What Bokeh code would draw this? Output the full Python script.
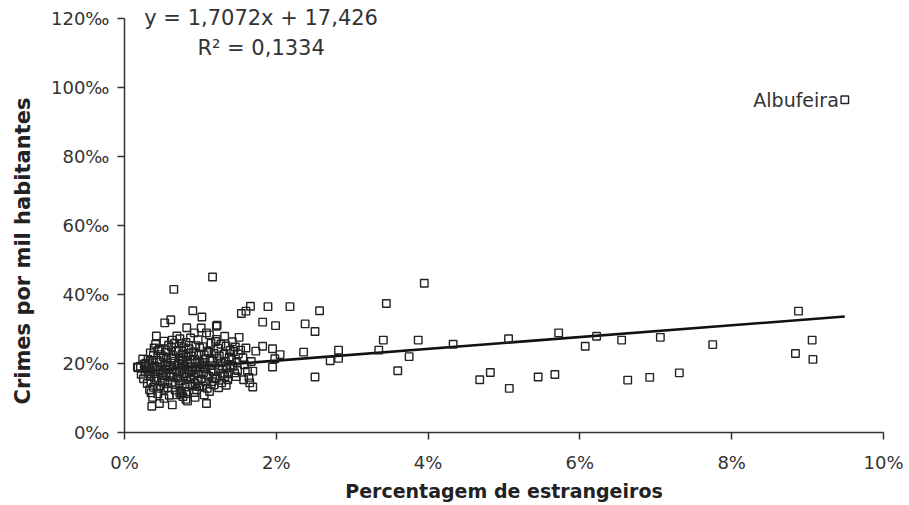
import numpy as np
from bokeh.plotting import figure
from bokeh.models import FixedTicker, Label, Range1d, Title
from bokeh.embed import file_html
from bokeh.resources import INLINE

# Percentagem de estrangeiros (%)
pct_foreign = [
    9.49,
    5.72, 6.22, 6.07, 6.55, 7.06, 7.75, 8.88, 9.06, 8.84, 9.07, 5.45, 5.67, 6.63, 6.92, 7.31,
    3.95, 3.45, 2.57, 2.38, 2.51, 3.41, 3.87, 4.33, 5.06, 2.36, 2.82, 3.35, 2.71, 2.82, 3.75, 3.60, 2.51, 4.68, 4.82, 5.07,
    1.89, 2.18, 1.82, 1.99, 1.82, 1.95, 2.05, 1.98, 1.95, 1.73, 1.69,
    0.21, 0.24, 0.27, 0.25, 0.29, 0.22, 0.28, 0.30, 0.26, 0.31, 0.17, 0.18,
    0.33, 0.35, 0.36, 0.34, 0.37, 0.38, 0.32, 0.39, 0.36, 0.35, 0.38, 0.33, 0.39, 0.37, 0.34, 0.40,
    0.42, 0.41, 0.44, 0.43, 0.45, 0.46, 0.42, 0.47, 0.44, 0.48, 0.41, 0.49, 0.46, 0.43, 0.45, 0.48, 0.47, 0.50,
    0.53, 0.52, 0.54, 0.51, 0.56, 0.58, 0.55, 0.57, 0.52, 0.59, 0.54, 0.56, 0.58, 0.51, 0.53, 0.55, 0.57, 0.60, 0.59, 0.52,
    0.61, 0.65, 0.69, 0.63, 0.62, 0.64, 0.66, 0.68, 0.61, 0.63, 0.67, 0.69, 0.65, 0.62, 0.64, 0.66, 0.68, 0.70, 0.67, 0.63,
    0.71, 0.72, 0.74, 0.76, 0.78, 0.73, 0.75, 0.77, 0.79, 0.72, 0.74, 0.76, 0.78, 0.71, 0.73, 0.75, 0.77, 0.80, 0.79, 0.72,
    0.82, 0.83, 0.81, 0.84, 0.86, 0.88, 0.85, 0.87, 0.89, 0.81, 0.83, 0.85, 0.87, 0.82, 0.84, 0.86, 0.88, 0.90, 0.89, 0.81,
    0.92, 0.94, 0.91, 0.93, 0.95, 0.97, 0.96, 0.98, 0.92, 0.94, 0.96, 0.98, 0.91, 0.93, 0.99, 0.95, 0.97, 1.00, 0.99, 0.93,
    1.02, 1.01, 1.03, 1.05, 1.04, 1.06, 1.08, 1.07, 1.09, 1.08, 1.02, 1.04, 1.06, 1.08, 1.01, 1.03, 1.10, 1.05,
    1.16, 1.12, 1.14, 1.11, 1.13, 1.15, 1.17, 1.19, 1.18, 1.12, 1.14, 1.16, 1.18, 1.11, 1.20, 1.15,
    1.22, 1.21, 1.23, 1.25, 1.27, 1.24, 1.26, 1.28, 1.29, 1.22, 1.24, 1.27, 1.30, 1.21,
    1.32, 1.34, 1.31, 1.33, 1.35, 1.37, 1.36, 1.38, 1.39, 1.32, 1.40, 1.34,
    1.42, 1.44, 1.41, 1.43, 1.45, 1.47, 1.46, 1.48, 1.49, 1.50,
    1.51, 1.54, 1.60, 1.66, 1.53, 1.56, 1.58, 1.62, 1.65, 1.69, 1.64, 1.67, 1.60, 1.57,
    0.75, 0.81, 1.21,
]

# Crimes por mil habitantes (‰)
crimes_per_mil = [
    96.5,
    28.9, 27.9, 25.0, 26.8, 27.6, 25.5, 35.2, 26.8, 22.9, 21.2, 16.1, 16.8, 15.2, 16.0, 17.3,
    43.3, 37.4, 35.3, 31.5, 29.3, 26.8, 26.8, 25.6, 27.2, 23.3, 23.9, 23.9, 20.8, 21.5, 22.0, 17.9, 16.1, 15.3, 17.4, 12.8,
    36.5, 36.5, 32.0, 31.0, 25.0, 24.3, 22.6, 21.4, 19.0, 23.6, 17.8,
    19.2, 21.3, 17.5, 15.6, 18.4, 16.9, 20.1, 14.2, 19.8, 21.2, 19.0, 18.8,
    12.4, 11.5, 7.6, 16.3, 18.9, 22.4, 19.6, 24.5, 20.8, 14.8, 13.1, 17.7, 16.0, 10.2, 23.1, 19.3,
    28.0, 25.6, 23.8, 21.0, 18.2, 8.4, 15.4, 13.6, 11.2, 20.4, 17.1, 16.5, 24.2, 19.0, 12.8, 22.6, 17.9, 14.6,
    31.8, 26.5, 24.0, 22.0, 20.2, 18.4, 16.8, 14.1, 12.5, 10.8, 19.5, 23.3, 25.3, 17.4, 15.2, 21.5, 13.0, 19.0, 16.1, 9.9,
    32.7, 41.5, 28.0, 8.0, 24.8, 22.3, 20.7, 18.0, 16.3, 14.5, 12.3, 10.9, 19.4, 21.6, 17.2, 25.9, 23.5, 15.8, 13.9, 26.8,
    20.0, 17.6, 15.0, 22.8, 24.6, 27.2, 12.0, 10.4, 19.2, 14.3, 21.4, 18.5, 16.4, 23.9, 11.4, 25.7, 20.9, 13.2, 17.0, 19.8,
    30.4, 9.1, 26.1, 23.0, 21.0, 19.1, 17.3, 15.4, 13.5, 11.8, 20.3, 24.3, 27.4, 16.0, 18.2, 14.0, 22.2, 35.3, 17.9, 21.9,
    28.9, 25.2, 23.4, 21.1, 19.0, 17.0, 15.1, 13.3, 11.6, 18.3, 20.5, 22.7, 16.6, 14.2, 24.6, 12.4, 26.9, 18.8, 20.0, 10.2,
    33.5, 30.3, 24.9, 22.5, 20.3, 18.6, 16.8, 14.6, 12.8, 8.4, 19.6, 17.4, 21.3, 28.9, 15.5, 13.6, 23.6, 10.9,
    45.1, 28.3, 25.9, 23.2, 21.2, 19.4, 17.6, 15.6, 13.8, 11.9, 18.1, 20.8, 22.9, 16.3, 26.4, 14.7,
    31.1, 27.0, 24.4, 22.1, 20.2, 18.4, 16.5, 14.4, 19.3, 21.5, 13.0, 25.6, 17.2, 15.8,
    27.9, 25.1, 22.7, 20.7, 18.7, 17.0, 15.3, 21.9, 23.8, 16.2, 19.5, 13.7,
    26.3, 23.5, 21.1, 19.2, 17.3, 16.2, 24.8, 20.3, 18.0, 22.8,
    27.6, 34.5, 35.2, 36.6, 23.9, 21.7, 19.6, 17.8, 14.4, 13.2, 16.0, 20.6, 24.5, 15.3,
    11.5, 9.6, 30.8,
]

trend_slope = 1.7072
trend_intercept = 17.426
equation_text = "y = 1,7072x + 17,426"
r2_text = "R\u00b2 = 0,1334"
outlier_name = "Albufeira"

x_ticks = [0, 2, 4, 6, 8, 10]
x_tick_labels = ["0%", "2%", "4%", "6%", "8%", "10%"]
y_ticks = [0, 20, 40, 60, 80, 100, 120]
y_tick_labels = ["0\u2030", "20\u2030", "40\u2030", "60\u2030", "80\u2030", "100\u2030", "120\u2030"]

TXT = "#333333"

p = figure(width=903, height=498, frame_width=759, frame_height=431,
           min_border_left=124, min_border_right=20, min_border_top=1, min_border_bottom=66,
           x_range=Range1d(0, 10), y_range=Range1d(0, 125),
           output_backend="svg", toolbar_location=None,
           background_fill_color="white", border_fill_color="white")
p.outline_line_color = None
p.xgrid.visible = False
p.ygrid.visible = False

for ax in (p.xaxis[0], p.yaxis[0]):
    ax.axis_line_color = TXT
    ax.axis_line_width = 1.5
    ax.major_tick_line_color = TXT
    ax.major_tick_line_width = 1.5
    ax.major_tick_in = 0
    ax.major_tick_out = 7
    ax.minor_tick_line_color = None
    ax.major_label_text_color = TXT
    ax.major_label_text_font = "DejaVu Sans"
    ax.major_label_text_font_size = "18px"
    ax.axis_label_text_color = "#222222"
    ax.axis_label_text_font_style = "bold"

p.yaxis.bounds = (0, 120)
p.xaxis.ticker = FixedTicker(ticks=x_ticks)
p.xaxis.major_label_overrides = {t: l for t, l in zip(x_ticks, x_tick_labels)}
p.yaxis.ticker = FixedTicker(ticks=y_ticks)
p.yaxis.major_label_overrides = {t: l for t, l in zip(y_ticks, y_tick_labels)}
p.xaxis.major_label_standoff = 12
p.yaxis.major_label_standoff = 8

p.xaxis.axis_label = "Percentagem de estrangeiros"
p.xaxis.axis_label_text_font = "DejaVu Sans"
p.xaxis.axis_label_text_font_size = "19px"
p.xaxis.axis_label_standoff = 4

p.add_layout(Title(text="Crimes por mil habitantes", align="left", offset=28, standoff=21,
                   vertical_align="top",
                   text_font="DejaVu Sans", text_font_style="bold",
                   text_font_size="21px", text_color="#222222"), "left")

# trend line
xl = np.array([min(pct_foreign), max(pct_foreign)])
yl = trend_slope * xl + trend_intercept
p.line(xl, yl, line_color="#111111", line_width=2.6)

p.scatter(pct_foreign, crimes_per_mil, marker="square", size=7.5,
          fill_alpha=0, line_color="#222222", line_width=1.4)

# equation labels
p.add_layout(Label(x=1.80, y=120.3, text=equation_text, text_align="center",
                   text_baseline="middle", text_font="DejaVu Sans",
                   text_font_size="21px", text_color=TXT))
p.add_layout(Label(x=1.80, y=111.6, text=r2_text, text_align="center",
                   text_baseline="middle", text_font="DejaVu Sans",
                   text_font_size="21px", text_color=TXT))
ai = crimes_per_mil.index(max(crimes_per_mil))
p.add_layout(Label(x=pct_foreign[ai], y=crimes_per_mil[ai], x_offset=-6,
                   text=outlier_name, text_align="right", text_baseline="middle",
                   text_font="DejaVu Sans", text_font_size="19px", text_color=TXT))

open("out.html", "w").write(file_html(p, INLINE))
